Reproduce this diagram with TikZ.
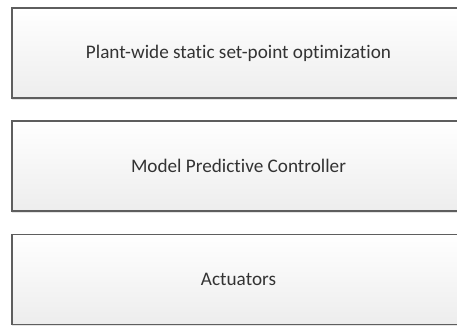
\documentclass[tikz,border=0pt]{standalone}
\usepackage{fontspec}
\setmainfont{Carlito}[Ligatures=NoCommon]
\definecolor{boxline}{HTML}{5E5E5E}
\definecolor{boxbot}{HTML}{EDEDED}
\definecolor{shadowc}{HTML}{E4E4E4}
\definecolor{txt}{HTML}{333333}
\tikzset{
  layerbox/.style={draw=boxline, line width=1.1pt, top color=white, bottom color=boxbot,
    minimum width=453pt, minimum height=90pt, inner sep=0pt,
    font=\fontsize{19.2}{22}\selectfont, text=txt},
  shadowbox/.style={fill=shadowc, draw=none, minimum width=453pt, minimum height=90pt}
}
\begin{document}
\begin{tikzpicture}[x=1pt,y=1pt]
\useasboundingbox (0,0) rectangle (457,327);
\clip (0,0) rectangle (457,327);
\fill[white] (0,0) rectangle (457,327);
% shadows
\node[shadowbox] (s1) at (238.5,327-55) {};
\node[shadowbox] (s2) at (238.5,327-168) {};
\node[shadowbox] (s3) at (238.5,327-281) {};
% boxes
\node[layerbox] (opt) at (238.5,327-53) {Plant-wide static set-point optimization};
\node[layerbox] (mpc) at (238.5,327-166) {Model Predictive Controller};
\node[layerbox] (act) at (238.5,327-279.5) {Actuators};
\end{tikzpicture}
\end{document}
